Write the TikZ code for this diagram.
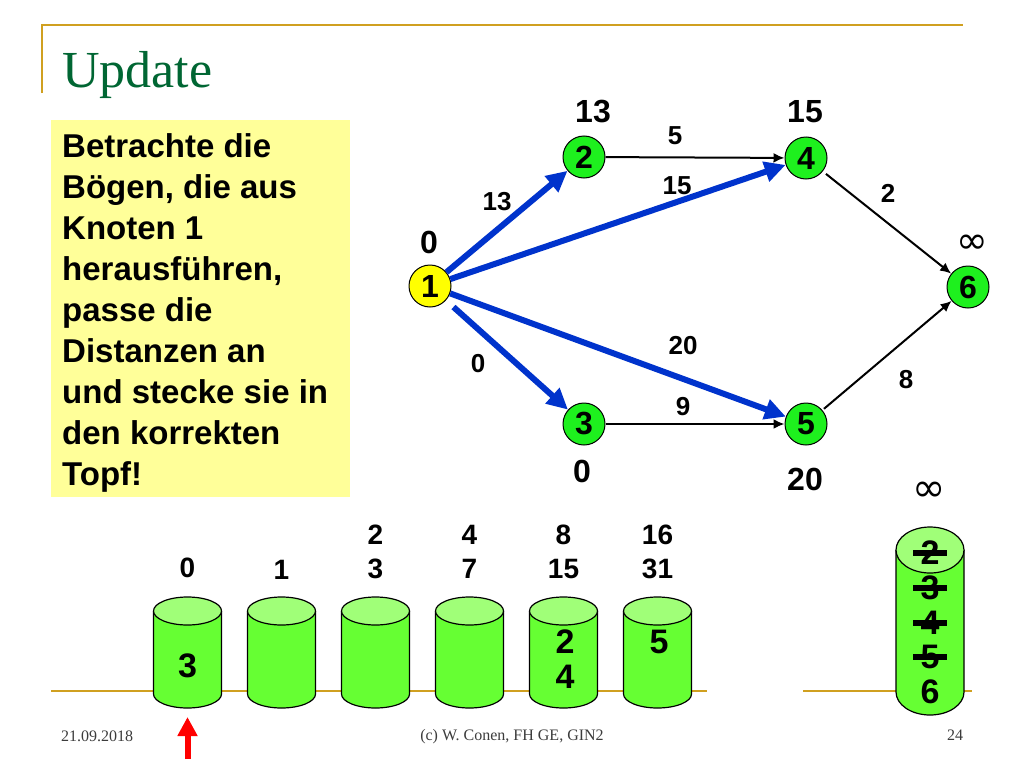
\documentclass[tikz,border=0pt]{standalone}
\usepackage{fontspec}
\setmainfont{Liberation Sans}
\newfontfamily\seriffont{Liberation Serif}
\newfontfamily\dejavu{DejaVu Sans}
\usetikzlibrary{arrows.meta}
\definecolor{goldline}{RGB}{208,160,32}
\definecolor{titlegreen}{RGB}{0,102,51}
\definecolor{boxyellow}{RGB}{255,255,153}
\definecolor{nodegreen}{RGB}{30,240,30}
\definecolor{nodeyellow}{RGB}{255,255,0}
\definecolor{cylbody}{RGB}{102,255,51}
\definecolor{cyltop}{RGB}{160,255,120}
\definecolor{arcblue}{RGB}{0,51,204}
\definecolor{footgray}{RGB}{60,60,60}
\newcommand{\mycyl}[5]{%
  \filldraw[cylline, fill=cylbody] ({#1-#4},#2) -- ({#1-#4},#3)
    .. controls ({#1-#4},{#3+0.5523*#5}) and ({#1-0.5523*#4},{#3+#5}) .. (#1,{#3+#5})
    .. controls ({#1+0.5523*#4},{#3+#5}) and ({#1+#4},{#3+0.5523*#5}) .. ({#1+#4},#3)
    -- ({#1+#4},#2);
  \filldraw[cylline, fill=cyltop] (#1,#2) ellipse [x radius=#4, y radius=#5];
}
\tikzset{
  cylline/.style={draw=black, line width=1.2pt},
  vertex/.style={circle, draw=black, line width=1pt, fill=nodegreen, minimum size=42pt, inner sep=0pt, font=\bfseries\fontsize{32}{34}\selectfont},
  distlabel/.style={inner sep=0pt, font=\bfseries\fontsize{32}{34}\selectfont},
  edgelabel/.style={inner sep=0pt, font=\bfseries\fontsize{26}{28}\selectfont},
  bluearc/.style={draw=arcblue, line width=6pt, -{Triangle[length=21pt,width=20pt]}},
  blackarc/.style={draw=black, line width=2pt, -{Latex[length=11pt,width=10pt]}},
  cyllabel/.style={inner sep=0pt, font=\bfseries\fontsize{28}{30}\selectfont},
  cylcontent/.style={inner sep=0pt, font=\bfseries\fontsize{34}{36}\selectfont},
  footer/.style={inner sep=0pt, text=footgray, font=\seriffont\fontsize{16}{18}\selectfont},
  goldrule/.style={draw=goldline, line width=2.5pt}
}
\begin{document}
\begin{tikzpicture}[x=1pt,y=-1pt]
\useasboundingbox (0,0) rectangle (1024,768);
\fill[white] (0,0) rectangle (1024,768);
% frame
\draw[goldrule] (42,93) -- (42,25) -- (963,25);
\node[anchor=base west, inner sep=0pt, text=titlegreen, font=\seriffont\fontsize{52}{60}\selectfont] (title) at (62,87) {Update};
% yellow box
\fill[boxyellow] (51,120) rectangle (350,497);
\node[anchor=north west, inner sep=0pt, align=left, font=\bfseries\fontsize{33}{41}\selectfont] (txt) at (62,133)
  {Betrachte die\\B\"ogen, die aus\\Knoten 1\\herausf\"uhren,\\passe die\\Distanzen an\\und stecke sie in\\den korrekten\\Topf!};
% graph nodes
\node[vertex, fill=nodeyellow] (n1) at (430,286) {1};
\node[vertex] (n2) at (584,157) {2};
\node[vertex] (n4) at (806,158) {4};
\node[vertex] (n6) at (968,287) {6};
\node[vertex] (n3) at (584,424) {3};
\node[vertex] (n5) at (806,424) {5};
% arcs
\draw[bluearc] (n1) -- (n2);
\draw[bluearc] (n1) -- (n4);
\draw[bluearc] (n1) -- (n5);
\draw[bluearc, shorten <=10pt] (n1) -- (n3);
\draw[blackarc] (n2) -- (n4);
\draw[blackarc] (n3) -- (n5);
\draw[blackarc, shorten <=4pt] (n4) -- (n6);
\draw[blackarc, shorten <=2pt] (n5) -- (n6);
% edge labels
\node[edgelabel] (l12) at (497,202) {13};
\node[edgelabel] (l14) at (677,186) {15};
\node[edgelabel] (l24) at (675,136) {5};
\node[edgelabel] (l15) at (683,346) {20};
\node[edgelabel] (l13) at (478,364) {0};
\node[edgelabel] (l35) at (683,407) {9};
\node[edgelabel] (l46) at (888,193) {2};
\node[edgelabel] (l56) at (906,380) {8};
% distance labels
\node[distlabel] (d1) at (429,242) {0};
\node[distlabel] (d2) at (593,112) {13};
\node[distlabel] (d4) at (805,112) {15};
\node[distlabel] (d3) at (582,471) {0};
\node[distlabel] (d5) at (805,479) {20};
\node[inner sep=0pt, font=\dejavu\fontsize{38}{40}\selectfont] (d6) at (972,244) {∞};
% bottom rule
\draw[goldrule] (51,691) -- (707,691);
\draw[goldrule] (803,691) -- (972,691);
% buckets
\foreach \i in {0,...,5} {
  \mycyl{187.5+94*\i}{611}{694}{34}{14}
}
\node[cyllabel] (b0) at (187.5,568) {0};
\node[cyllabel] (b1) at (281.5,570) {1};
\node[cyllabel] (b2a) at (375.5,535) {2};
\node[cyllabel] (b2b) at (375.5,569) {3};
\node[cyllabel] (b3a) at (469.5,535) {4};
\node[cyllabel] (b3b) at (469.5,569) {7};
\node[cyllabel] (b4a) at (563.5,535) {8};
\node[cyllabel] (b4b) at (563.5,569) {15};
\node[cyllabel] (b5a) at (657.5,535) {16};
\node[cyllabel] (b5b) at (657.5,569) {31};
\node[cylcontent] (c0) at (187.5,666) {3};
\node[cylcontent] (c4a) at (565,642) {2};
\node[cylcontent] (c4b) at (565,677) {4};
\node[cylcontent] (c5) at (659,642) {5};
% infinity bucket
\mycyl{930}{550}{692}{34}{23}
\node[inner sep=0pt, font=\dejavu\fontsize{40}{42}\selectfont] (binf) at (929,492) {∞};
\node[cylcontent] (r2) at (930,553) {2};
\node[cylcontent] (r3) at (930,588) {3};
\node[cylcontent] (r4) at (930,623) {4};
\node[cylcontent] (r5) at (930,657) {5};
\node[cylcontent] (r6) at (930,692) {6};
\foreach \yy in {553,588,623,657} {
  \draw[line width=6.5pt] (913,\yy) -- (947,\yy);
}
% red pointer
\coordinate (redbase) at (187.5,759);
\coordinate (redtip) at (187.5,717);
\draw[draw=red, line width=6pt, -{Triangle[length=19pt,width=19pt]}] (redbase) -- (redtip);
% footer
\node[footer] (date) at (97,736) {21.09.2018};
\node[footer] (copy) at (512,737) {(c) W. Conen, FH GE, GIN2};
\node[footer] (page) at (955,735) {24};
\end{tikzpicture}
\end{document}
